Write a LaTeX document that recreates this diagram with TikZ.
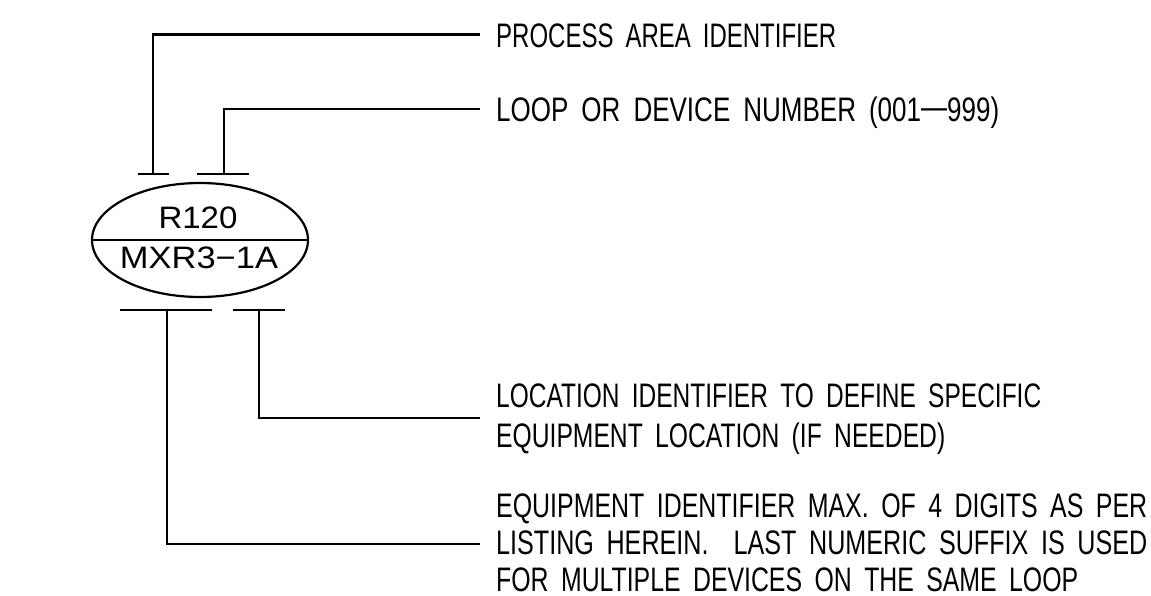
\documentclass[tikz,border=0pt]{standalone}
\usepackage{fontspec}
\setmainfont[WordSpace=1.8]{Liberation Sans}
\usetikzlibrary{shapes.geometric}
\newcommand{\fitw}[2]{\resizebox{#1pt}{\height}{#2}}
\newcommand{\middash}{\raisebox{0.09em}{—}}
\tikzset{
  lead/.style={line width=2.3pt, line cap=butt},
  tickbar/.style={line width=2.6pt},
  lbl/.style={anchor=base west, inner sep=0pt, font=\fontsize{34}{34}\selectfont},
  tagtxt/.style={anchor=base, inner sep=0pt, font=\fontsize{31}{31}\selectfont},
  tagshape/.style={ellipse, draw, line width=2.2pt, minimum width=216pt, minimum height=114pt, inner sep=0pt}
}
\begin{document}
\begin{tikzpicture}[x=1pt,y=-1pt]
\useasboundingbox (0,0) rectangle (1151,596);
% instrument tag
\node[tagshape] (tag) at (200,240) {};
\draw[line width=2.2pt] (tag.west) -- (tag.east);
\node[tagtxt] (top) at (198,229) {\fitw{79}{R120}};
\node[tagtxt] (bot) at (199,268) {\fitw{158}{MXR3−1A}};
% tick marks
\coordinate (ta) at (153,174);
\coordinate (tb) at (224,174);
\coordinate (tc) at (167,310);
\coordinate (td) at (259,310);
\draw[tickbar] (138,174) -- (169,174);
\draw[tickbar] (197,174) -- (249,174);
\draw[tickbar] (120,310) -- (212,310);
\draw[tickbar] (233,310) -- (285,310);
% leader ends
\coordinate (ea) at (480,34.5);
\coordinate (eb) at (480,109);
\coordinate (ed) at (480,418);
\coordinate (ec) at (480,544);
\draw[lead] (ta) |- (ea);
\draw[lead] (tb) |- (eb);
\draw[lead] (td) |- (ed);
\draw[lead] (tc) |- (ec);
% labels
\node[lbl] (t1) at (496,48) {\fitw{340}{PROCESS AREA IDENTIFIER}};
\node[lbl] (t2) at (496,122) {\fitw{503}{LOOP OR DEVICE NUMBER (001\middash 999)}};
\node[lbl] (t3) at (496,407) {\fitw{545}{LOCATION IDENTIFIER TO DEFINE SPECIFIC}};
\node[lbl] (t4) at (496,447) {\fitw{449}{EQUIPMENT LOCATION (IF NEEDED)}};
\node[lbl] (t5) at (496,517) {\fitw{651}{EQUIPMENT IDENTIFIER MAX. OF 4 DIGITS AS PER}};
\node[lbl] (t6) at (496,554) {\fitw{651}{LISTING HEREIN.~~LAST NUMERIC SUFFIX IS USED}};
\node[lbl] (t7) at (496,591) {\fitw{582}{FOR MULTIPLE DEVICES ON THE SAME LOOP}};
\end{tikzpicture}
\end{document}
